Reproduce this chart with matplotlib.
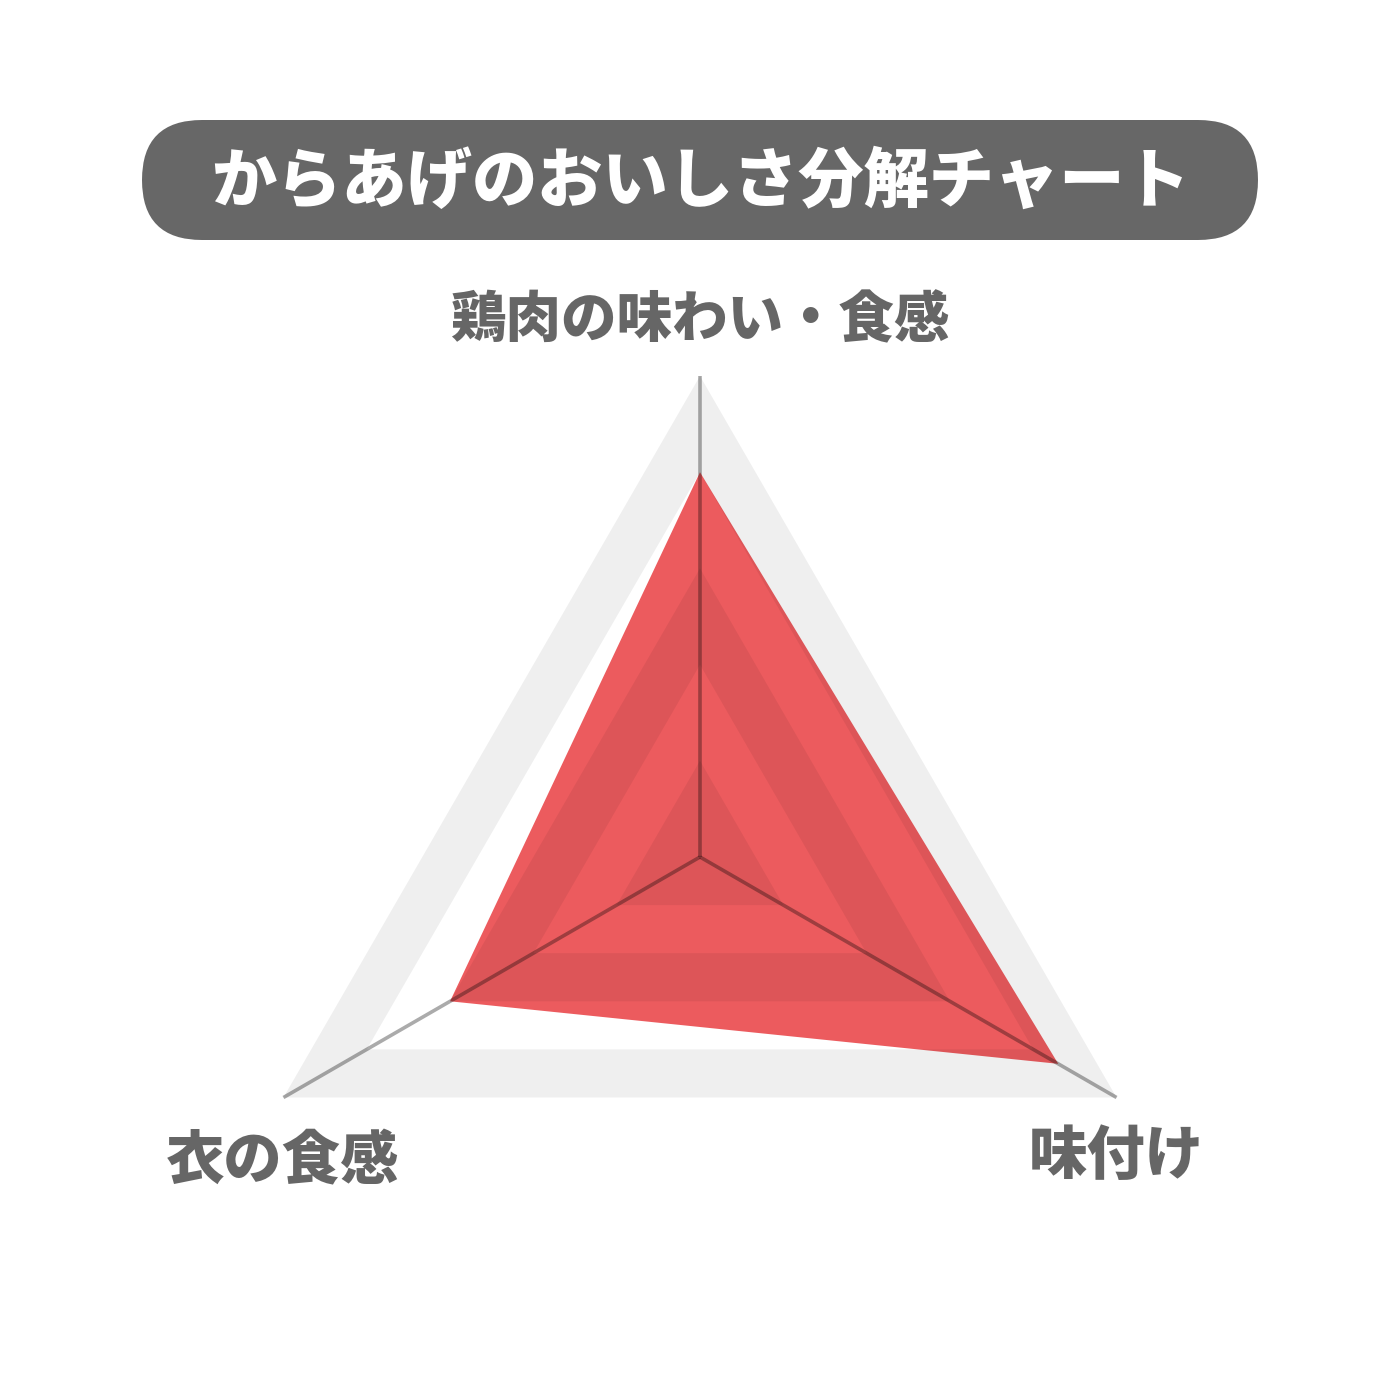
import numpy as np
import matplotlib
matplotlib.use("Agg")
import matplotlib.pyplot as plt
from matplotlib.patches import Polygon, PathPatch, FancyBboxPatch
from matplotlib.path import Path

plt.rcParams['font.family'] = ['Noto Sans CJK JP', 'DejaVu Sans']

title = "からあげのおいしさ分解チャート"
categories = ["鶏肉の味わい・食感", "味付け", "衣の食感"]
values = [4.0, 4.3, 3.0]
max_value = 5.0
levels = [1, 2, 3, 4, 5]

fig = plt.figure(figsize=(14, 14), dpi=100)
ax = fig.add_axes([0, 0, 1, 1])
ax.set_xlim(0, 1400)
ax.set_ylim(1400, 0)
ax.set_aspect('equal')
ax.axis('off')

cx, cy, R = 700, 857, 481
angles = np.deg2rad([90, -30, 210])


def pts(rs):
    rs = np.asarray(rs, dtype=float)
    return np.column_stack([cx + rs * np.cos(angles), cy - rs * np.sin(angles)])


# data polygon
data_pts = pts(np.array(values) / max_value * R)
ax.add_patch(Polygon(data_pts, closed=True, facecolor='#ec5b5e', edgecolor='none', zorder=2))

# alternating bands (drawn on top, translucent)
for i, lv in enumerate(levels):
    if i % 2 == 0:
        outer = pts([lv / max_value * R] * 3)
        inner = pts([(lv - 1) / max_value * R] * 3) if lv > 1 else None
        verts = list(outer) + [outer[0]]
        codes = [Path.MOVETO] + [Path.LINETO] * 2 + [Path.CLOSEPOLY]
        if inner is not None:
            inner = inner[::-1]
            verts += list(inner) + [inner[0]]
            codes += [Path.MOVETO] + [Path.LINETO] * 2 + [Path.CLOSEPOLY]
        ax.add_patch(PathPatch(Path(verts, codes), facecolor='black', alpha=0.064,
                               edgecolor='none', zorder=3))

# axis spokes
ends = pts([R] * 3)
for ex, ey in ends:
    ax.plot([cx, ex], [cy, ey], color='black', alpha=0.33, lw=2.6,
            solid_capstyle='butt', zorder=4)

# title box
ax.add_patch(FancyBboxPatch((142, 120), 1116, 120,
                            boxstyle="round,pad=0,rounding_size=60",
                            facecolor='#676767', edgecolor='none', zorder=1))
ax.text(700, 182, title, color='white', fontsize=47, fontweight='heavy',
        ha='center', va='center', zorder=5)

# category labels
label_pos = [(700, 321), (1116, 1157), (283, 1162)]
label_sizes = [40, 42, 42]
for (lx, ly), lab, fs in zip(label_pos, categories, label_sizes):
    ax.text(lx, ly, lab, color='#666666', fontsize=fs, fontweight='heavy',
            ha='center', va='center', zorder=5)

fig.savefig('out.png', dpi=100, facecolor='white')
